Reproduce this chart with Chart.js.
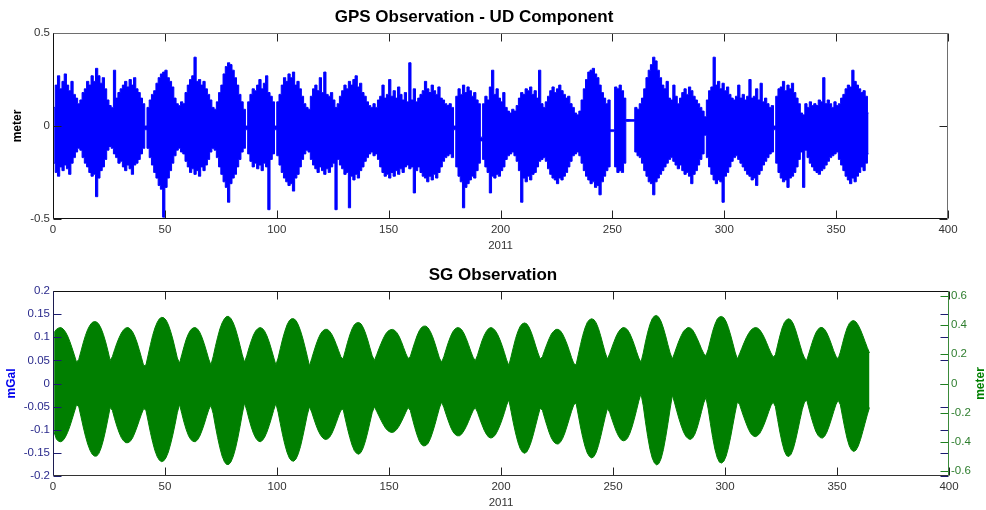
<!DOCTYPE html>
<html><head><meta charset="utf-8">
<script src="https://cdn.jsdelivr.net/npm/chart.js@4/dist/chart.umd.min.js"></script>
<style>
html,body{margin:0;padding:0;background:#fff;}
#wrap{position:relative;width:986px;height:510px;background:#fff;}
canvas{position:absolute;left:0;}
#c1{top:0}
#c2{top:255px}
</style></head><body>
<div id="wrap"><canvas id="c1" width="986" height="255"></canvas><canvas id="c2" width="986" height="255"></canvas></div>
<script>
// ---- tick labels ----
const xTickValues = [0, 50, 100, 150, 200, 250, 300, 350, 400];
const gpsTickValues = [-0.5, 0, 0.5];
const sgGalTickValues = [-0.2, -0.15, -0.1, -0.05, 0, 0.05, 0.1, 0.15, 0.2];
const sgMeterTickValues = [-0.6, -0.4, -0.2, 0, 0.2, 0.4, 0.6];

// ---- GPS UD component: daily upper / lower extent (m), day 0..364 ----
const gpsDailyMax = [
0.10,0.22,0.27,0.20,0.24,0.28,0.22,0.19,0.24,0.17,
0.15,0.12,0.14,0.18,0.20,0.24,0.22,0.27,0.24,0.31,
0.27,0.23,0.26,0.20,0.14,0.11,0.10,0.30,0.15,0.18,
0.20,0.22,0.24,0.21,0.25,0.22,0.26,0.20,0.18,0.15,
0.12,0.00,0.10,0.14,0.17,0.19,0.23,0.26,0.28,0.29,
0.30,0.26,0.24,0.21,0.15,0.12,0.11,0.13,0.12,0.18,
0.22,0.25,0.27,0.37,0.24,0.25,0.22,0.24,0.20,0.17,
0.14,0.10,0.09,0.13,0.18,0.22,0.28,0.32,0.34,0.33,
0.30,0.26,0.22,0.17,0.13,0.09,0.00,0.13,0.17,0.20,
0.19,0.22,0.25,0.20,0.23,0.27,0.18,0.16,0.13,0.00,
0.13,0.17,0.22,0.26,0.24,0.28,0.26,0.29,0.22,0.24,
0.20,0.16,0.12,0.10,0.09,0.16,0.20,0.22,0.19,0.26,
0.18,0.29,0.17,0.16,0.18,0.14,0.10,0.12,0.16,0.19,
0.22,0.20,0.24,0.22,0.25,0.27,0.21,0.23,0.18,0.16,
0.13,0.11,0.10,0.12,0.10,0.14,0.16,0.22,0.15,0.17,
0.25,0.16,0.19,0.15,0.21,0.17,0.14,0.18,0.13,0.34,
0.14,0.20,0.13,0.15,0.17,0.19,0.24,0.20,0.18,0.22,
0.19,0.17,0.21,0.15,0.14,0.12,0.11,0.12,0.10,0.00,
0.16,0.20,0.17,0.22,0.18,0.21,0.19,0.16,0.18,0.14,
0.12,-0.06,0.12,0.16,0.14,0.21,0.30,0.17,0.20,0.15,
0.13,0.18,0.10,0.08,0.07,0.09,0.08,0.11,0.15,0.18,
0.17,0.20,0.19,0.21,0.17,0.19,0.15,0.30,0.12,0.10,
0.13,0.16,0.19,0.21,0.18,0.20,0.22,0.19,0.17,0.15,
0.16,0.12,0.10,0.07,0.06,0.08,0.14,0.20,0.25,0.29,
0.30,0.31,0.28,0.26,0.22,0.18,0.15,0.12,0.14,-0.02,
-0.02,0.21,0.20,0.22,0.19,0.15,0.035,0.035,0.035,0.035,
0.10,0.09,0.12,0.15,0.20,0.26,0.30,0.33,0.37,0.35,
0.30,0.26,0.22,0.20,0.24,0.15,0.14,0.22,0.16,0.12,
0.15,0.18,0.20,0.17,0.21,0.19,0.16,0.14,0.12,0.10,
0.08,0.05,0.14,0.19,0.21,0.37,0.22,0.24,0.20,0.23,
0.19,0.21,0.17,0.15,0.14,0.16,0.22,0.15,0.17,0.14,
0.16,0.25,0.15,0.16,0.20,0.14,0.23,0.13,0.15,0.12,
0.10,0.11,0.00,0.16,0.20,0.21,0.24,0.19,0.22,0.20,
0.23,0.18,0.15,0.12,0.07,0.06,0.12,0.10,0.13,0.11,
0.12,0.11,0.14,0.13,0.26,0.12,0.14,0.12,0.10,0.13,
0.11,0.12,0.15,0.17,0.20,0.22,0.21,0.30,0.24,0.22,
0.20,0.18,0.19,0.16,0.07
];
const gpsDailyMin = [
-0.20,-0.25,-0.27,-0.22,-0.24,-0.21,-0.23,-0.26,-0.20,-0.17,
-0.14,-0.12,-0.13,-0.17,-0.20,-0.22,-0.25,-0.27,-0.26,-0.38,
-0.28,-0.24,-0.22,-0.18,-0.13,-0.11,-0.12,-0.15,-0.17,-0.20,
-0.19,-0.22,-0.24,-0.21,-0.23,-0.26,-0.21,-0.20,-0.18,-0.15,
-0.12,-0.02,-0.12,-0.17,-0.21,-0.25,-0.28,-0.32,-0.34,-0.49,
-0.33,-0.28,-0.24,-0.20,-0.16,-0.13,-0.12,-0.14,-0.15,-0.19,
-0.22,-0.25,-0.23,-0.26,-0.24,-0.27,-0.22,-0.24,-0.21,-0.18,
-0.14,-0.12,-0.13,-0.17,-0.22,-0.26,-0.30,-0.33,-0.41,-0.31,
-0.28,-0.26,-0.22,-0.18,-0.14,-0.12,-0.02,-0.15,-0.19,-0.22,
-0.20,-0.23,-0.21,-0.24,-0.20,-0.22,-0.45,-0.18,-0.15,-0.02,
-0.16,-0.21,-0.25,-0.28,-0.30,-0.32,-0.31,-0.35,-0.28,-0.26,
-0.22,-0.18,-0.15,-0.13,-0.14,-0.18,-0.21,-0.23,-0.25,-0.22,
-0.24,-0.26,-0.23,-0.25,-0.22,-0.20,-0.45,-0.18,-0.21,-0.23,
-0.26,-0.25,-0.44,-0.27,-0.29,-0.26,-0.28,-0.24,-0.22,-0.19,
-0.17,-0.15,-0.14,-0.16,-0.15,-0.18,-0.22,-0.25,-0.27,-0.26,
-0.28,-0.25,-0.27,-0.24,-0.26,-0.23,-0.25,-0.22,-0.21,-0.23,
-0.22,-0.36,-0.24,-0.22,-0.25,-0.27,-0.28,-0.30,-0.27,-0.29,
-0.26,-0.28,-0.25,-0.22,-0.19,-0.17,-0.16,-0.15,-0.17,-0.02,
-0.22,-0.27,-0.30,-0.44,-0.33,-0.31,-0.29,-0.27,-0.28,-0.24,
-0.20,-0.08,-0.18,-0.22,-0.25,-0.36,-0.27,-0.28,-0.26,-0.27,
-0.24,-0.22,-0.18,-0.16,-0.15,-0.14,-0.16,-0.19,-0.24,-0.41,
-0.28,-0.30,-0.27,-0.29,-0.26,-0.25,-0.22,-0.19,-0.18,-0.17,
-0.19,-0.23,-0.26,-0.28,-0.29,-0.31,-0.28,-0.29,-0.27,-0.25,
-0.22,-0.19,-0.16,-0.15,-0.14,-0.16,-0.20,-0.24,-0.27,-0.29,
-0.31,-0.30,-0.33,-0.32,-0.37,-0.30,-0.27,-0.24,-0.22,-0.03,
-0.03,-0.22,-0.25,-0.24,-0.25,-0.20,0.025,0.025,0.025,0.025,
-0.14,-0.16,-0.17,-0.20,-0.24,-0.27,-0.30,-0.31,-0.37,-0.30,
-0.28,-0.26,-0.24,-0.22,-0.20,-0.18,-0.17,-0.19,-0.21,-0.23,
-0.21,-0.24,-0.26,-0.25,-0.27,-0.31,-0.26,-0.24,-0.21,-0.18,
-0.15,-0.05,-0.17,-0.22,-0.26,-0.29,-0.31,-0.29,-0.30,-0.41,
-0.27,-0.25,-0.22,-0.19,-0.17,-0.16,-0.18,-0.20,-0.22,-0.24,
-0.26,-0.27,-0.29,-0.28,-0.32,-0.26,-0.24,-0.21,-0.19,-0.17,
-0.15,-0.14,-0.02,-0.20,-0.25,-0.28,-0.30,-0.29,-0.33,-0.28,
-0.27,-0.25,-0.22,-0.18,-0.14,-0.33,-0.13,-0.17,-0.20,-0.22,
-0.24,-0.25,-0.26,-0.24,-0.23,-0.21,-0.19,-0.17,-0.16,-0.15,
-0.14,-0.18,-0.21,-0.24,-0.27,-0.29,-0.31,-0.28,-0.30,-0.27,
-0.25,-0.22,-0.24,-0.20,-0.15
];

// ---- SG observation: daily upper / lower extent (mGal), day 0..364 ----
const sgDailyMax = [
0.110,0.117,0.120,0.121,0.118,0.112,0.103,0.091,0.077,0.062,
0.046,0.052,0.070,0.088,0.104,0.117,0.126,0.132,0.134,0.133,
0.128,0.119,0.106,0.090,0.071,0.050,0.058,0.073,0.087,0.099,
0.109,0.116,0.120,0.121,0.118,0.112,0.102,0.089,0.073,0.056,
0.038,0.040,0.062,0.084,0.104,0.120,0.132,0.140,0.143,0.142,
0.137,0.127,0.113,0.096,0.076,0.055,0.044,0.062,0.080,0.096,
0.108,0.116,0.120,0.121,0.118,0.111,0.100,0.086,0.070,0.053,
0.040,0.058,0.080,0.100,0.118,0.131,0.140,0.145,0.145,0.140,
0.131,0.118,0.101,0.082,0.062,0.046,0.060,0.077,0.092,0.105,
0.114,0.119,0.121,0.119,0.113,0.103,0.090,0.074,0.057,0.040,
0.055,0.076,0.096,0.113,0.127,0.136,0.140,0.140,0.136,0.127,
0.114,0.098,0.079,0.059,0.038,0.054,0.070,0.085,0.098,0.108,
0.114,0.117,0.117,0.113,0.106,0.096,0.084,0.071,0.058,0.053,
0.071,0.089,0.105,0.118,0.127,0.131,0.132,0.129,0.121,0.109,
0.094,0.077,0.060,0.050,0.062,0.075,0.087,0.098,0.107,0.113,
0.116,0.117,0.115,0.110,0.102,0.091,0.078,0.065,0.054,0.058,
0.074,0.089,0.103,0.114,0.121,0.124,0.124,0.120,0.112,0.101,
0.087,0.071,0.055,0.046,0.058,0.074,0.089,0.102,0.112,0.118,
0.121,0.120,0.116,0.108,0.097,0.084,0.070,0.057,0.049,0.061,
0.077,0.092,0.104,0.113,0.119,0.121,0.119,0.114,0.106,0.095,
0.082,0.067,0.051,0.039,0.058,0.078,0.097,0.112,0.123,0.129,
0.131,0.129,0.122,0.111,0.097,0.081,0.066,0.053,0.058,0.072,
0.085,0.097,0.107,0.113,0.117,0.117,0.114,0.107,0.097,0.085,
0.071,0.056,0.043,0.040,0.062,0.084,0.104,0.120,0.132,0.138,
0.140,0.138,0.131,0.119,0.103,0.085,0.067,0.053,0.064,0.078,
0.091,0.103,0.112,0.118,0.121,0.120,0.116,0.108,0.097,0.084,
0.069,0.055,0.046,0.066,0.090,0.111,0.128,0.140,0.146,0.147,
0.143,0.134,0.120,0.103,0.084,0.066,0.053,0.066,0.080,0.093,
0.104,0.113,0.118,0.121,0.120,0.116,0.108,0.098,0.087,0.075,
0.065,0.060,0.074,0.094,0.113,0.128,0.139,0.144,0.145,0.142,
0.134,0.121,0.105,0.087,0.068,0.053,0.064,0.076,0.088,0.099,
0.108,0.115,0.119,0.121,0.120,0.116,0.109,0.100,0.089,0.077,
0.066,0.057,0.062,0.083,0.103,0.120,0.132,0.138,0.140,0.137,
0.129,0.116,0.100,0.083,0.067,0.055,0.050,0.066,0.082,0.097,
0.109,0.117,0.121,0.121,0.117,0.109,0.098,0.085,0.071,0.059,
0.053,0.068,0.087,0.105,0.120,0.130,0.135,0.136,0.133,0.126,
0.116,0.104,0.091,0.078,0.066
];
const sgDailyMin = [
-0.105,-0.120,-0.125,-0.126,-0.123,-0.116,-0.106,-0.093,-0.078,-0.062,
-0.046,-0.050,-0.072,-0.094,-0.114,-0.131,-0.144,-0.153,-0.157,-0.157,
-0.151,-0.139,-0.122,-0.101,-0.077,-0.052,-0.058,-0.076,-0.092,-0.106,
-0.117,-0.124,-0.128,-0.128,-0.125,-0.118,-0.107,-0.094,-0.080,-0.066,
-0.054,-0.058,-0.082,-0.106,-0.127,-0.145,-0.158,-0.166,-0.169,-0.167,
-0.160,-0.148,-0.131,-0.111,-0.088,-0.063,-0.045,-0.065,-0.084,-0.100,
-0.113,-0.121,-0.125,-0.126,-0.122,-0.114,-0.102,-0.088,-0.072,-0.057,
-0.047,-0.065,-0.092,-0.117,-0.139,-0.157,-0.169,-0.175,-0.175,-0.169,
-0.157,-0.140,-0.118,-0.093,-0.066,-0.042,-0.058,-0.077,-0.094,-0.108,
-0.118,-0.124,-0.126,-0.123,-0.116,-0.105,-0.091,-0.075,-0.058,-0.043,
-0.062,-0.087,-0.111,-0.132,-0.149,-0.161,-0.167,-0.168,-0.163,-0.152,
-0.136,-0.115,-0.092,-0.068,-0.050,-0.062,-0.077,-0.091,-0.103,-0.112,
-0.118,-0.121,-0.120,-0.116,-0.108,-0.097,-0.084,-0.070,-0.058,-0.055,
-0.077,-0.098,-0.117,-0.133,-0.145,-0.151,-0.153,-0.149,-0.139,-0.124,
-0.105,-0.084,-0.063,-0.050,-0.060,-0.070,-0.080,-0.089,-0.097,-0.102,
-0.105,-0.106,-0.104,-0.099,-0.092,-0.083,-0.073,-0.062,-0.052,-0.058,
-0.077,-0.095,-0.111,-0.124,-0.132,-0.135,-0.134,-0.129,-0.119,-0.105,
-0.089,-0.071,-0.053,-0.040,-0.052,-0.067,-0.081,-0.094,-0.104,-0.110,
-0.113,-0.113,-0.109,-0.102,-0.093,-0.082,-0.070,-0.059,-0.052,-0.062,
-0.076,-0.089,-0.101,-0.110,-0.116,-0.118,-0.116,-0.111,-0.102,-0.091,
-0.078,-0.063,-0.047,-0.035,-0.060,-0.085,-0.107,-0.126,-0.140,-0.148,
-0.151,-0.148,-0.139,-0.126,-0.109,-0.090,-0.071,-0.053,-0.058,-0.075,
-0.091,-0.106,-0.118,-0.126,-0.130,-0.131,-0.127,-0.119,-0.107,-0.092,
-0.076,-0.060,-0.046,-0.042,-0.068,-0.094,-0.117,-0.136,-0.150,-0.158,
-0.161,-0.158,-0.149,-0.134,-0.115,-0.094,-0.073,-0.054,-0.062,-0.077,
-0.091,-0.104,-0.114,-0.121,-0.124,-0.123,-0.118,-0.108,-0.094,-0.077,
-0.058,-0.038,-0.022,-0.048,-0.083,-0.115,-0.142,-0.161,-0.172,-0.176,
-0.173,-0.162,-0.143,-0.117,-0.087,-0.055,-0.025,-0.042,-0.060,-0.077,
-0.092,-0.105,-0.114,-0.119,-0.121,-0.118,-0.110,-0.097,-0.080,-0.061,
-0.042,-0.030,-0.055,-0.087,-0.117,-0.142,-0.160,-0.170,-0.172,-0.168,
-0.157,-0.139,-0.116,-0.090,-0.064,-0.040,-0.045,-0.060,-0.074,-0.087,
-0.099,-0.108,-0.113,-0.115,-0.113,-0.108,-0.099,-0.088,-0.075,-0.061,
-0.048,-0.040,-0.050,-0.078,-0.105,-0.128,-0.146,-0.156,-0.158,-0.153,
-0.141,-0.123,-0.101,-0.078,-0.056,-0.040,-0.036,-0.055,-0.073,-0.089,
-0.103,-0.112,-0.117,-0.118,-0.114,-0.105,-0.092,-0.077,-0.061,-0.046,
-0.036,-0.046,-0.072,-0.097,-0.119,-0.135,-0.144,-0.147,-0.144,-0.135,
-0.121,-0.104,-0.086,-0.068,-0.052
];

// ---- helpers ----
const FONT = "'Liberation Sans', Arial, Helvetica, sans-serif";
const dayPoints = arr => arr.map((v, i) => ({x: i + 0.5, y: v}));
function bandDatasets(maxArr, minArr, color, axisId, stepped) {
  const common = { borderColor: color, backgroundColor: color, borderWidth: 1, pointRadius: 0, tension: 0, stepped: stepped, yAxisID: axisId };
  return [
    Object.assign({ data: dayPoints(maxArr), fill: false }, common),
    Object.assign({ data: dayPoints(minArr), fill: '-1' }, common)
  ];
}
function fixedTicks(values) { return scale => { scale.ticks = values.map(v => ({value: v})); }; }
const fmt = v => { const r = +(+v).toFixed(3); return r === 0 ? '0' : String(r); };

const frame = {
  id: 'frame',
  afterDraw(chart, args, o) {
    const {ctx, chartArea: a} = chart;
    const L = 8;
    ctx.save();
    ctx.lineWidth = 1;
    const line = (x1, y1, x2, y2, c) => { ctx.strokeStyle = c; ctx.beginPath(); ctx.moveTo(x1, y1); ctx.lineTo(x2, y2); ctx.stroke(); };
    const l = Math.round(a.left) + 0.5, r = Math.round(a.right) - 0.5, tp = Math.round(a.top) + 0.5, b = Math.round(a.bottom) - 0.5;
    const sx = chart.scales.x;
    sx.ticks.forEach(t => { const p = Math.round(sx.getPixelForValue(t.value)) + 0.5; line(p, b, p, b - L, o.xColor); line(p, tp, p, tp + L, o.xColor); });
    const sy = chart.scales.y;
    sy.ticks.forEach(t => { const p = Math.round(sy.getPixelForValue(t.value)) + 0.5; line(l, p, l + L, p, o.yColor); line(r, p, r - L, p, o.yColor); });
    if (chart.scales.y2) {
      const s2 = chart.scales.y2;
      s2.ticks.forEach(t => { const p = Math.round(s2.getPixelForValue(t.value)) + 0.5; line(r, p, r - L, p, o.y2Color); });
    }
    line(l, tp, r, tp, o.topColor);
    line(l, b, r, b, o.bottomColor);
    line(l, tp, l, b, o.leftColor);
    line(r, tp, r, b, o.rightColor);
    if (o.rightTitle) {
      ctx.save();
      ctx.translate(chart.width - o.rightTitle.inset, (a.top + a.bottom) / 2);
      ctx.rotate(-Math.PI / 2);
      ctx.fillStyle = o.rightTitle.color;
      ctx.font = 'bold 12px ' + FONT;
      ctx.textAlign = 'center';
      ctx.textBaseline = 'middle';
      ctx.fillText(o.rightTitle.text, 0, 0);
      ctx.restore();
    }
    ctx.restore();
  }
};

const tickFont = {family: FONT, size: 11.5};

new Chart(document.getElementById('c1'), {
  type: 'line',
  data: { datasets: bandDatasets(gpsDailyMax, gpsDailyMin, '#0000ff', 'y', 'middle') },
  options: {
    responsive: false, animation: false, events: [],
    layout: { padding: { left: 0, right: 38, top: 0, bottom: 0 } },
    plugins: {
      legend: {display: false}, tooltip: {enabled: false},
      filler: {propagate: false},
      title: { display: true, text: 'GPS Observation - UD Component', color: '#000', font: {family: FONT, size: 17, weight: 'bold'}, padding: {top: 7, bottom: 5.6} },
      frame: { xColor: '#222', yColor: '#222', topColor: '#6e6e6e', bottomColor: '#111', leftColor: '#111', rightColor: '#6e6e6e' }
    },
    scales: {
      x: { type: 'linear', min: 0, max: 400, afterBuildTicks: fixedTicks(xTickValues), afterFit: s => { s.height = 36; },
           grid: {display: false, drawTicks: false}, border: {display: false},
           ticks: {color: '#333', font: tickFont, padding: 4, maxRotation: 0, autoSkip: false, callback: fmt},
           title: {display: true, text: '2011', color: '#333', font: tickFont, padding: {top: 0, bottom: 2}} },
      y: { min: -0.5, max: 0.5, afterBuildTicks: fixedTicks(gpsTickValues), afterFit: s => { s.width = 53; },
           grid: {display: false, drawTicks: false}, border: {display: false},
           ticks: {color: '#333', font: tickFont, padding: 3, callback: fmt},
           title: {display: true, text: 'meter', color: '#000', font: {family: FONT, size: 12, weight: 'bold'}, padding: {top: 10, bottom: 0}} }
    }
  },
  plugins: [frame]
});

new Chart(document.getElementById('c2'), {
  type: 'line',
  data: { datasets: bandDatasets(sgDailyMax, sgDailyMin, '#007f00', 'y', false) },
  options: {
    responsive: false, animation: false, events: [],
    layout: { padding: 0 },
    plugins: {
      legend: {display: false}, tooltip: {enabled: false},
      filler: {propagate: false},
      title: { display: true, text: 'SG Observation', color: '#000', font: {family: FONT, size: 17, weight: 'bold'}, padding: {top: 9.8, bottom: 5.8} },
      frame: { xColor: '#222', yColor: '#1c1c70', y2Color: '#1f7f1f', topColor: '#111', bottomColor: '#333', leftColor: '#1c1c50', rightColor: '#3a8a3a',
               rightTitle: {text: 'meter', color: '#007f00', inset: 5} }
    },
    scales: {
      x: { type: 'linear', min: 0, max: 400, afterBuildTicks: fixedTicks(xTickValues), afterFit: s => { s.height = 34; },
           grid: {display: false, drawTicks: false}, border: {display: false},
           ticks: {color: '#333', font: tickFont, padding: 4, maxRotation: 0, autoSkip: false, callback: fmt},
           title: {display: true, text: '2011', color: '#333', font: tickFont, padding: {top: 0, bottom: 0.4}} },
      y: { position: 'left', min: -0.2, max: 0.2, afterBuildTicks: fixedTicks(sgGalTickValues), afterFit: s => { s.width = 53; },
           grid: {display: false, drawTicks: false}, border: {display: false},
           ticks: {color: '#2a2a8c', font: tickFont, padding: 3, callback: fmt},
           title: {display: true, text: 'mGal', color: '#0000ee', font: {family: FONT, size: 12, weight: 'bold'}, padding: {top: 4.8, bottom: 0}} },
      y2: { position: 'right', min: -0.634, max: 0.634, afterBuildTicks: fixedTicks(sgMeterTickValues), afterFit: s => { s.width = 37; },
           grid: {display: false, drawTicks: false}, border: {display: false},
           ticks: {color: '#2d7d2d', font: tickFont, padding: 2, callback: fmt} }
    }
  },
  plugins: [frame]
});
</script>
</body></html>
